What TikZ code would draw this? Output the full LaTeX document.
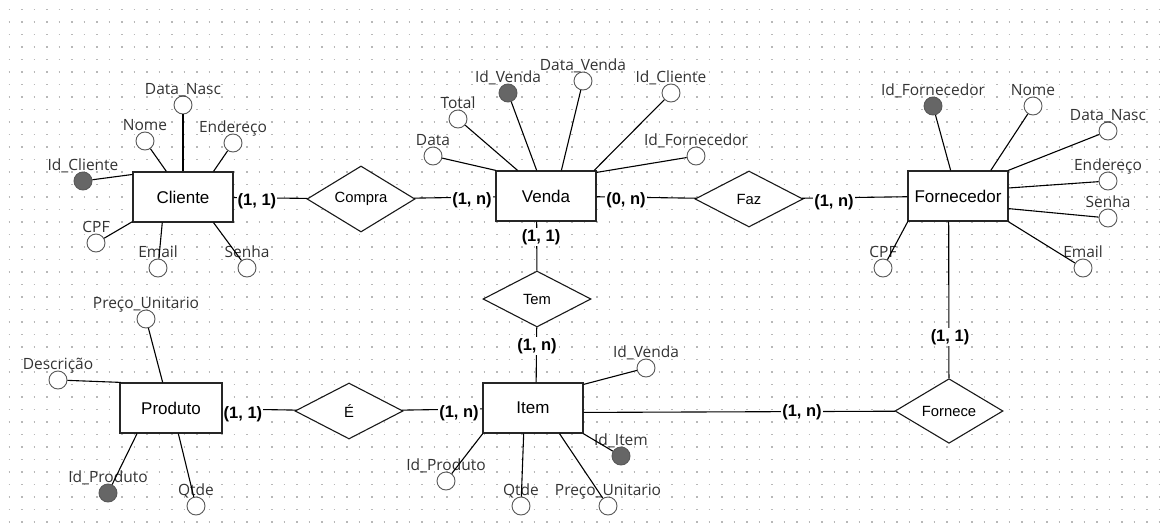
\documentclass[tikz,border=0pt]{standalone}
\usepackage{fontspec}
\setmainfont{Liberation Sans}
\newfontfamily\attrfamily{Open Sans}
\usepackage{tikz}
\usetikzlibrary{shapes.geometric}

\begin{document}
\begin{tikzpicture}[x=1pt, y=-1pt, label distance=1pt]
    \tikzstyle{entity}=[rectangle, draw=black!85, fill=white, line width=1.2pt, minimum width=100pt, minimum height=50pt, inner sep=0pt, font=\fontsize{17}{20}\selectfont]
    \tikzstyle{relation}=[diamond, draw=black!90, fill=white, line width=1.1pt, minimum width=108pt, minimum height=56pt, inner sep=0pt, font=\fontsize{14.8}{18}\selectfont]
    \tikzstyle{attr}=[circle, draw=black!65, fill=white, line width=0.9pt, minimum size=18pt, inner sep=0pt]
    \tikzstyle{keyattr}=[attr, fill=black!60]
    \tikzstyle{card}=[fill=white, inner sep=1pt, font=\bfseries\fontsize{16.5}{20}\selectfont]
    \tikzstyle{edge}=[draw, line width=1.1pt, -]
    \tikzstyle{griddot}=[draw=black!28, line width=1.6pt, dash pattern=on 1.6pt off 10.9pt]
    \tikzstyle{every label}=[inner sep=0pt, text depth=0pt, text=black!80, font=\attrfamily\fontsize{15.5}{18}\selectfont]

    \fill[white] (0,0) rectangle (1162,527);
    \useasboundingbox (0,0) rectangle (1162,527);
    \foreach \gy in {0,...,41}
        \path[griddot] (8.6,{9.4+12.5*\gy}) -- (1162,{9.4+12.5*\gy});

    % entidades
    \node[entity] (cliente) at (183,197) {Cliente};
    \node[entity] (venda) at (546,196) {Venda};
    \node[entity] (fornecedor) at (958,196) {Fornecedor};
    \node[entity, minimum width=102pt] (produto) at (171,408) {Produto};
    \node[entity] (item) at (533,408) {Item};

    % relacionamentos
    \node[relation] (compra) at (361,199) {Compra};
    \node[relation] (faz) at (749,199) {Faz};
    \node[relation] (tem) at (537,299) {Tem};
    \node[relation] (e) at (349,411) {É};
    \node[relation] (fornece) at (949,411) {Fornece};

    % atributos Cliente
    \node[attr,label=above:{Data\_Nasc}] (cdatanasc) at (183,105) {};
    \node[attr,label=above:{Nome}] (cnome) at (145,141) {};
    \node[attr,label=above:{Endereço}] (cendereco) at (233,143) {};
    \node[keyattr,label=above:{Id\_Cliente}] (cid) at (83,181) {};
    \node[attr,label=above:{CPF}] (ccpf) at (96,243) {};
    \node[attr,label=above:{Email}] (cemail) at (158,268) {};
    \node[attr,label=above:{Senha}] (csenha) at (247,268) {};

    % atributos Venda
    \node[attr,label=above:{Data}] (vdata) at (433,156) {};
    \node[attr,label=above:{Total}] (vtotal) at (458,119) {};
    \node[keyattr,label=above:{Id\_Venda}] (vid) at (508,93) {};
    \node[attr,label=above:{Data\_Venda}] (vdatavenda) at (583,81) {};
    \node[attr,label=above:{Id\_Cliente}] (vidcliente) at (671,93) {};
    \node[attr,label=above:{Id\_Fornecedor}] (vidfornecedor) at (696,156) {};

    % atributos Fornecedor
    \node[keyattr,label=above:{Id\_Fornecedor}] (fid) at (933,106) {};
    \node[attr,label=above:{Nome}] (fnome) at (1033,106) {};
    \node[attr,label=above:{Data\_Nasc}] (fdatanasc) at (1108,131) {};
    \node[attr,label=above:{Endereço}] (fendereco) at (1108,181) {};
    \node[attr,label=above:{Senha}] (fsenha) at (1108,218) {};
    \node[attr,label=above:{Email}] (femail) at (1083,268) {};
    \node[attr,label=above:{CPF}] (fcpf) at (883,268) {};

    % atributos Produto
    \node[attr,label=above:{Preço\_Unitario}] (ppreco) at (146,319) {};
    \node[attr,label=above:{Descrição}] (pdescricao) at (58,380) {};
    \node[keyattr,label=above:{Id\_Produto}] (pid) at (108,493) {};
    \node[attr,label=above:{Qtde}] (pqtde) at (196,506) {};

    % atributos Item
    \node[attr,label=above:{Id\_Venda}] (iidvenda) at (646,368) {};
    \node[keyattr,label=above:{Id\_Item}] (iid) at (621,456) {};
    \node[attr,label=above:{Id\_Produto}] (iidproduto) at (446,481) {};
    \node[attr,label=above:{Qtde}] (iqtde) at (521,506) {};
    \node[attr,label=above:{Preço\_Unitario}] (ipreco) at (608,506) {};

    \foreach \source/\dest in {cdatanasc/cliente.90, cnome/cliente.123, cendereco/cliente.40, cid/cliente.156, ccpf/cliente.206, cemail/cliente.231, csenha/cliente.320,
            vdata/venda.153, vtotal/venda.138, vid/venda.110, vdatavenda/venda.59, vidcliente/venda.28, vidfornecedor/venda.25,
            fid/fornecedor.106, fnome/fornecedor.38, fdatanasc/fornecedor.27, fendereco/fornecedor.9, fsenha/fornecedor.346, femail/fornecedor.333, fcpf/fornecedor.207,
            ppreco/produto.108, pdescricao/produto.153, pid/produto.217, pqtde/produto.286,
            iidvenda/item.25, iid/item.333, iidproduto/item.207, iqtde/item.250, ipreco/item.316}
        \path[edge] (\source) -- (\dest);

    \foreach \source/\dest in {cliente/compra, compra/venda, venda/faz, faz/fornecedor, venda.250/tem, tem/item.83, produto/e, e/item, item.355/fornece, fornecedor.250/fornece}
        \path[edge] (\source) -- (\dest);

    % cardinalidades
    \node[card] (kcliente) at (257,201) {(1, 1)};
    \node[card] (kvendacompra) at (472,200) {(1, n)};
    \node[card] (kvendafaz) at (626,200) {(0, n)};
    \node[card] (kfornecedorfaz) at (834,202) {(1, n)};
    \node[card] (kvendatem) at (541,237) {(1, 1)};
    \node[card] (kitemtem) at (537,346) {(1, n)};
    \node[card] (kproduto) at (243,414) {(1, 1)};
    \node[card] (kiteme) at (459,413) {(1, n)};
    \node[card] (kitemfornece) at (802,412) {(1, n)};
    \node[card] (kfornecedorfornece) at (950,337) {(1, 1)};
\end{tikzpicture}
\end{document}
